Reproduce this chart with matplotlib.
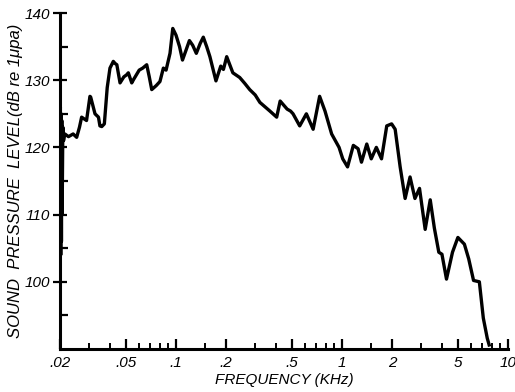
import matplotlib
matplotlib.use("Agg")
import matplotlib.pyplot as plt

# spectrum (frequency in kHz, level in dB re 1 upa)
freq = [0.0200, 0.0201, 0.0202, 0.0203, 0.0204, 0.0205, 0.0206, 0.0208, 0.0210,
        0.0214, 0.0225, 0.0240, 0.0252, 0.0262, 0.0270, 0.0289, 0.0303, 0.0306,
        0.0325, 0.0341, 0.0348, 0.0357, 0.0370, 0.0385, 0.0400, 0.0419, 0.0429,
        0.0440, 0.0460, 0.0485, 0.0504, 0.0516, 0.0541, 0.0555, 0.0600, 0.0630,
        0.0666, 0.0690, 0.0714, 0.0760, 0.0800, 0.0839, 0.0871, 0.0920, 0.0956,
        0.1000, 0.1050, 0.1094, 0.1150, 0.1204, 0.1260, 0.1325, 0.1400, 0.1460,
        0.1530, 0.1600, 0.1740, 0.1860, 0.1930, 0.2020, 0.2200, 0.2420, 0.2600,
        0.2780, 0.3000, 0.3200, 0.3680, 0.4040, 0.4240, 0.4670, 0.4900, 0.5070,
        0.5560, 0.6100, 0.6700, 0.7330, 0.7900, 0.8660, 0.9600, 1.0100, 1.0800,
        1.1700, 1.2500, 1.3100, 1.4100, 1.5000, 1.6100, 1.7300, 1.8600, 1.9900,
        2.0900, 2.2400, 2.4000, 2.5700, 2.7500, 2.9300, 3.1700, 3.4000, 3.6000,
        3.8300, 4.0000, 4.2600, 4.6300, 4.9900, 5.4600, 5.8000, 6.2000, 6.7200,
        7.1000, 7.5000, 7.7000]
level = [124.0, 126.0, 104.0, 125.0, 106.0, 124.0, 110.0, 123.0, 121.0,
         122.0, 121.6, 122.0, 121.5, 123.0, 124.5, 124.0, 127.6, 127.5,
         125.0, 124.5, 123.2, 123.1, 123.5, 128.9, 131.8, 132.8, 132.5,
         132.3, 129.6, 130.5, 130.8, 131.1, 129.6, 130.1, 131.5, 131.8,
         132.3, 130.5, 128.6, 129.2, 129.8, 131.8, 131.5, 134.0, 137.7,
         136.7, 135.0, 133.0, 134.5, 135.9, 135.2, 134.0, 135.5, 136.4,
         135.0, 133.5, 129.9, 132.1, 131.6, 133.5, 131.1, 130.4, 129.5,
         128.6, 127.8, 126.7, 125.4, 124.5, 126.9, 125.7, 125.4, 125.0,
         123.2, 125.0, 122.7, 127.6, 125.4, 122.0, 120.0, 118.3, 117.1,
         120.3, 119.8, 117.8, 120.5, 118.3, 120.0, 118.3, 123.2, 123.5,
         122.7, 117.1, 112.4, 115.6, 112.4, 113.9, 107.8, 112.2, 108.0,
         104.4, 104.1, 100.4, 104.4, 106.6, 105.6, 103.4, 100.2, 100.0,
         94.6, 91.6, 90.6]

major_x = [0.02, 0.05, 0.1, 0.2, 0.5, 1, 2, 5, 10]
major_x_labels = ['.02', '.05', '.1', '.2', '.5', '1', '2', '5', '10']
minor_x = [0.03, 0.04, 0.06, 0.07, 0.08, 0.09, 0.15, 0.3, 0.4, 0.6, 0.7, 0.8,
           0.9, 1.5, 3, 4, 6, 7, 8, 9]
major_y = [100, 110, 120, 130, 140]
minor_y = [95, 105, 115, 125, 135]

fig = plt.figure(figsize=(5.15, 3.92), dpi=100)
ax = fig.add_axes([60 / 515, 43 / 392, 448 / 515, 336 / 392])

ax.plot(freq, level, color="black", linewidth=2.4, solid_joinstyle="round")

ax.set_xscale("log")
ax.set_xlim(0.02, 10)
ax.set_ylim(90, 140)

ax.set_xticks(major_x)
ax.set_xticklabels(major_x_labels)
ax.set_xticks(minor_x, minor=True)
ax.set_xticklabels([], minor=True)
ax.set_yticks(major_y)
ax.set_yticks(minor_y, minor=True)

for s in ["top", "right"]:
    ax.spines[s].set_visible(False)
for s in ["left", "bottom"]:
    ax.spines[s].set_linewidth(2.2)

ax.tick_params(axis="x", which="major", direction="in", length=7, width=1.6,
               pad=5, labelsize=11)
ax.tick_params(axis="x", which="minor", direction="in", length=4.5, width=1.4)
ax.tick_params(axis="y", which="major", direction="inout", length=10, width=1.6,
               pad=2, labelsize=11)
ax.tick_params(axis="y", which="minor", direction="in", length=6, width=1.6)
for lab in ax.get_xticklabels() + ax.get_yticklabels():
    lab.set_fontstyle("italic")
    lab.set_fontfamily("Liberation Sans")

ax.set_xlabel("FREQUENCY (KHz)", fontsize=11, fontstyle="italic",
              family="Liberation Sans", labelpad=2)
ax.set_ylabel("SOUND  PRESSURE  LEVEL(dB re 1\u03bcpa)", fontsize=12,
              fontstyle="italic", family="Liberation Sans", labelpad=1)

fig.savefig("out.png", dpi=100)
